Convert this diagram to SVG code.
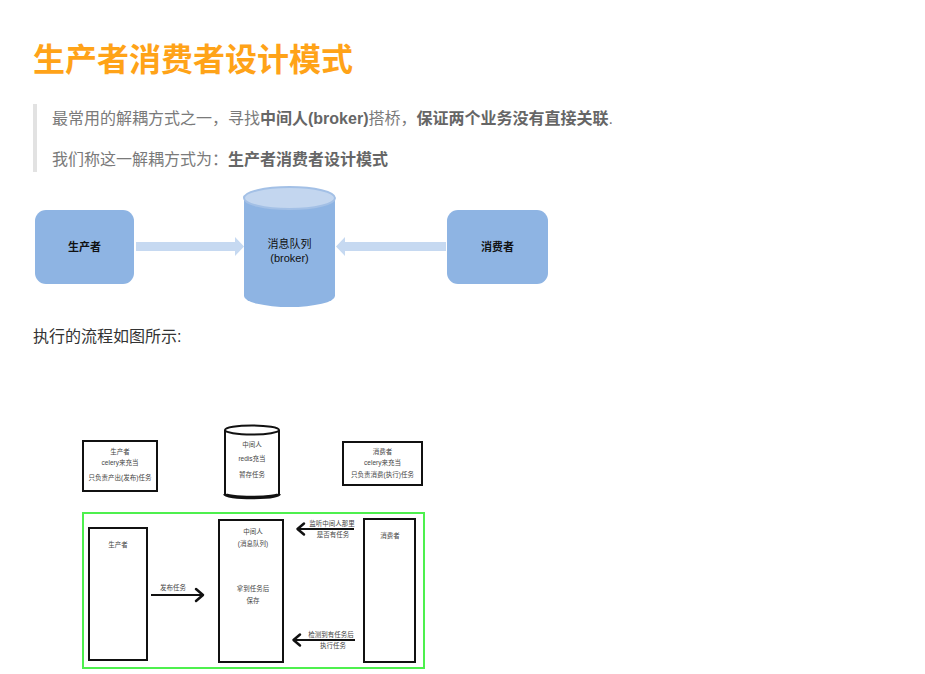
<svg xmlns="http://www.w3.org/2000/svg" width="925" height="674" viewBox="0 0 925 674">
<defs>
<style>
.cjk{font-family:"Liberation Sans","Noto Sans CJK SC",sans-serif}
.title{font-size:32px;font-weight:bold;fill:#ffa318}
.q{font-size:16px;fill:#7a7a7a}
.qb{font-weight:bold;fill:#666}
.body{font-size:16px;fill:#333}
.blue{fill:#8eb4e3}
.band{fill:#c6d9f1}
.t1{font-size:11px;fill:#111;text-anchor:middle}
.t2{font-size:6.5px;fill:#444;text-anchor:middle}
.box{fill:#fff;stroke:#111;stroke-width:2}
.ln{fill:none;stroke:#111;stroke-width:2}
.hd{fill:none;stroke:#111;stroke-width:2.5;stroke-linecap:round;stroke-linejoin:round}
</style>
</defs>
<rect width="925" height="674" fill="#fff"/>
<text class="cjk title" x="33" y="71">生产者消费者设计模式</text>
<rect x="33" y="104" width="4" height="68" fill="#e2e2e2"/>
<text class="cjk q" x="52" y="124">最常用的解耦方式之一，寻找<tspan class="qb">中间人(broker)</tspan>搭桥，<tspan class="qb">保证两个业务没有直接关联</tspan>.</text>
<text class="cjk q" x="52" y="165">我们称这一解耦方式为：<tspan class="qb">生产者消费者设计模式</tspan></text>

<g id="top-producer">
<rect class="blue" x="35" y="210" width="99" height="74" rx="11"/>
<text class="cjk t1" x="84.5" y="251" font-weight="bold">生产者</text>
</g>
<g id="top-broker">
<path class="blue" d="M244,198 V296 A45.5,11 0 0 0 335,296 V198 Z"/>
<ellipse cx="289.5" cy="198" rx="45.5" ry="11" fill="#c3d6ef" stroke="#a3c0e6" stroke-width="2"/>
<text class="cjk t1" x="289.5" y="248">消息队列</text>
<text class="cjk t1" x="289.5" y="262">(broker)</text>
</g>
<g id="top-consumer">
<rect class="blue" x="447" y="210" width="101" height="74" rx="11"/>
<text class="cjk t1" x="497.5" y="251" font-weight="bold">消费者</text>
</g>
<g id="top-connectors">
<path class="band" d="M136,242 H235 V237 L244,246.5 L235,256 V251 H136 Z"/>
<path class="band" d="M446,242 H345 V237 L336,246.5 L345,256 V251 H446 Z"/>
</g>

<text class="cjk body" x="33" y="342">执行的流程如图所示:</text>

<g id="legend-producer">
<rect class="box" x="83" y="441" width="74" height="50"/>
<text class="cjk t2" x="120" y="454">生产者</text>
<text class="cjk t2" x="120" y="465">celery来充当</text>
<text class="cjk t2" x="120" y="480">只负责产出(发布)任务</text>
</g>
<g id="legend-broker">
<path class="ln" d="M225,430 V494"/>
<path class="ln" d="M279,430 V494"/>
<ellipse cx="252" cy="430" rx="27" ry="4.5" class="ln"/>
<path d="M225,494 A27,3.5 0 0 0 279,494" fill="none" stroke="#111" stroke-width="3.5"/>
<text class="cjk t2" x="252" y="447">中间人</text>
<text class="cjk t2" x="252" y="461">redis充当</text>
<text class="cjk t2" x="252" y="477">暂存任务</text>
</g>
<g id="legend-consumer">
<rect class="box" x="343" y="442" width="79" height="43"/>
<text class="cjk t2" x="382.5" y="454">消费者</text>
<text class="cjk t2" x="382.5" y="465">celery来充当</text>
<text class="cjk t2" x="382.5" y="477">只负责消费(执行)任务</text>
</g>

<g id="frame">
<rect x="83" y="513" width="341" height="155" fill="none" stroke="#4df04d" stroke-width="2"/>
</g>
<g id="flow-producer">
<rect class="box" x="89" y="528" width="58" height="132"/>
<text class="cjk t2" x="118" y="547">生产者</text>
</g>
<g id="flow-broker">
<rect class="box" x="219" y="520" width="64" height="142"/>
<text class="cjk t2" x="253" y="534">中间人</text>
<text class="cjk t2" x="253" y="546">(消息队列)</text>
<text class="cjk t2" x="253" y="591">拿到任务后</text>
<text class="cjk t2" x="253" y="603">保存</text>
</g>
<g id="flow-consumer">
<rect class="box" x="364" y="519" width="51" height="143"/>
<text class="cjk t2" x="390" y="538">消费者</text>
</g>
<g id="connectors">
<path class="ln" d="M151,595 H202"/>
<path class="hd" d="M196,589 L203,595 L196,601"/>
<text class="cjk t2" x="173" y="590">发布任务</text>
<path class="ln" d="M298,529 H354"/>
<path class="hd" d="M304,523.5 L297.5,529 L304,534.5"/>
<text class="cjk t2" x="332" y="526">监听中间人那里</text>
<text class="cjk t2" x="333" y="537">是否有任务</text>
<path class="ln" d="M294,640 H355"/>
<path class="hd" d="M300,634.5 L293.5,640 L300,645.5"/>
<text class="cjk t2" x="331" y="637">检测到有任务后</text>
<text class="cjk t2" x="333" y="648">执行任务</text>
</g>
</svg>
